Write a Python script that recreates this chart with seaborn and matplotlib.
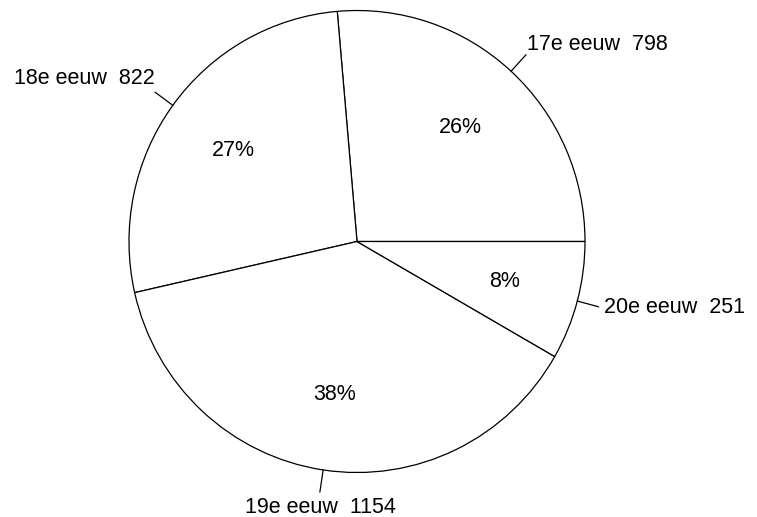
import matplotlib
matplotlib.use("Agg")
import matplotlib.pyplot as plt
import numpy as np
import seaborn as sns

# data
centuries = ["17e eeuw", "18e eeuw", "19e eeuw", "20e eeuw"]
counts = [798, 822, 1154, 251]

# label placement relative to the end of each leader tick (pixels, ha, va)
label_offsets = [
    (1, 5, "left", "baseline"),
    (0, 8, "right", "baseline"),
    (1, -5, "center", "top"),
    (5, -1, "left", "center"),
]

sns.set_theme(style="white")
plt.rcParams['font.family'] = ['Liberation Sans', 'DejaVu Sans']

fig = plt.figure(figsize=(7.57, 5.17), dpi=100)
ax = fig.add_axes([129 / 757, 44.5 / 517, 456 / 757, 462 / 517])

wedges, texts, autotexts = ax.pie(
    counts,
    startangle=0,
    counterclock=True,
    colors=["white"] * len(counts),
    wedgeprops=dict(edgecolor="black", linewidth=0.9),
    autopct=lambda p: f"{p:.0f}%",
    pctdistance=0.67,
    textprops=dict(fontsize=15.5, color="black"),
)
ax.set_aspect("auto")
ax.set_xlim(-1, 1)
ax.set_ylim(-1, 1)
ax.axis("off")

# leader ticks and outside labels
for w, name, n, (dx, dy, ha, va) in zip(wedges, centuries, counts, label_offsets):
    theta = np.deg2rad((w.theta1 + w.theta2) / 2)
    c, s = np.cos(theta), np.sin(theta)
    ax.plot([c, 1.097 * c], [s, 1.097 * s], color="black", lw=0.9, clip_on=False)
    ax.annotate(f"{name}  {n}", xy=(1.097 * c, 1.097 * s), xytext=(dx, dy),
                textcoords="offset pixels", ha=ha, va=va, fontsize=15.5,
                color="black", annotation_clip=False)

fig.savefig("out.png", dpi=100, facecolor="white")
